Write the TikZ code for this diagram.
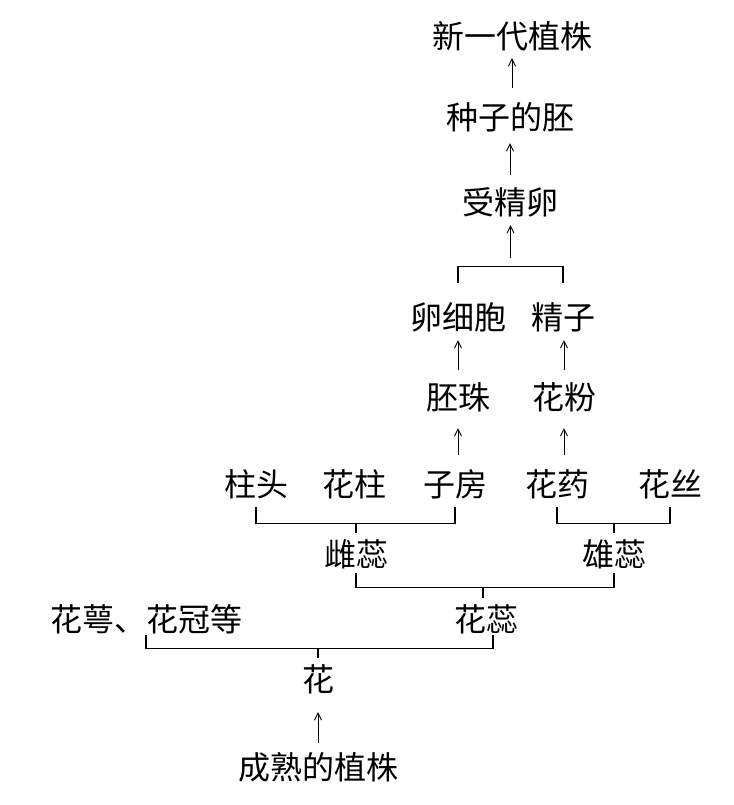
\documentclass[tikz,border=0pt]{standalone}
\usepackage{fontspec}
\newfontfamily\cjk{Noto Sans CJK SC}
\usetikzlibrary{arrows.meta,calc}
\tikzset{
  lbl/.style={font=\cjk\fontsize{32}{32}\selectfont,inner xsep=0pt,inner ysep=7.5pt,
    text height=26pt,text depth=3pt},
  arr/.style={line width=0.9pt,-{Straight Barb[length=7pt,width=7pt]}},
  brk/.style={line width=1.1pt}
}
\begin{document}
\begin{tikzpicture}[x=1pt,y=1pt]
\useasboundingbox (0,0) rectangle (733,805);
% top chain
\node[lbl] (xydz) at (512,768) {新一代植株};
\node[lbl] (zzdp) at (510,687) {种子的胚};
\node[lbl] (sjl) at (510,602) {受精卵};
\node[lbl] (lxb) at (458,487) {卵细胞};
\node[lbl] (jz) at (563,487) {精子};
\node[lbl] (pz) at (458,407) {胚珠};
\node[lbl] (hf) at (564,407) {花粉};
% flower parts
\node[lbl] (zt) at (256,320) {柱头};
\node[lbl] (hz) at (354,320) {花柱};
\node[lbl] (zf) at (455,320) {子房};
\node[lbl] (hy) at (557,320) {花药};
\node[lbl] (hs) at (670,320) {花丝};
\node[lbl] (cr) at (356,250) {雌蕊};
\node[lbl] (xr) at (614,250) {雄蕊};
\node[lbl] (hez) at (146,185) {花萼、花冠等};
\node[lbl] (hr) at (486,185) {花蕊};
\node[lbl] (hua) at (318,125) {花};
\node[lbl] (csz) at (318,37) {成熟的植株};
% arrows
\draw[arr,shorten >=-1pt] ([yshift=8pt]zzdp.north -| xydz.south) -- (xydz.south);
\draw[arr] ([yshift=6pt]sjl.north -| zzdp.south) -- ([yshift=-3pt]zzdp.south);
\draw[arr] ([yshift=6pt]pz.north) -- (pz.north |- lxb.south);
\draw[arr] ([yshift=6pt]hf.north) -- (hf.north |- jz.south);
\draw[arr] ([yshift=8pt]zf.north -| pz.south) -- ([yshift=-8pt]pz.south);
\draw[arr] ([yshift=8pt]hy.north -| hf.south) -- ([yshift=-8pt]hf.south);
\draw[arr] ([yshift=3pt]csz.north) -- ([yshift=-10pt]hua.south);
% brackets
\draw[brk] ([yshift=13pt]lxb.north) -- ++(0,16) -| ([yshift=13pt]jz.north);
\coordinate (fert) at ($(lxb.north)!0.5!(jz.north)+(0,38)$);
\draw[arr] (fert) -- (fert |- sjl.south);
\draw[brk] (zt.south) -- ++(0,-16) -| (zf.south);
\draw[brk] (cr.north) -- ++(0,10);
\draw[brk] (hy.south) -- ++(0,-16) -| (hs.south);
\draw[brk] (xr.north) -- ++(0,10);
\draw[brk] ([yshift=4pt]cr.south) -- ++(0,-14) -| ([yshift=4pt]xr.south);
\draw[brk] ([xshift=-3pt]hr.north) -- ++(0,11);
\draw[brk] ([yshift=7pt]hez.south) -- ++(0,-13) -| ([yshift=7pt,xshift=7pt]hr.south);
\draw[brk] (hua.north) -- ++(0,10);
\end{tikzpicture}
\end{document}
